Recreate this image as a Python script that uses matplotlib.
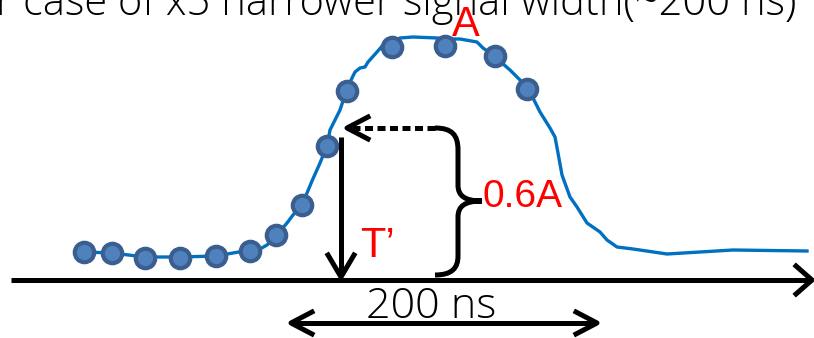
import matplotlib.pyplot as plt
from matplotlib.path import Path
from matplotlib.patches import PathPatch

# coordinates are in picture pixels (x to the right, y downwards)
# sampled points of the narrow signal
sample_x = [84, 112, 145, 180, 216, 250, 276, 302, 327, 347, 392, 445, 495, 527]
sample_y = [252, 253, 258, 258, 256, 251, 235, 205, 146, 91, 47, 46, 56, 89]

# continuous waveform
wave_x = [84, 112, 145, 180, 216, 250, 260, 267, 276, 287, 293, 302, 312, 320, 327,
          330, 335, 340, 345, 347, 352, 355, 360, 365, 368, 377, 383, 392, 400, 413,
          437, 445, 460, 477, 483, 490, 495, 510, 520, 527, 533, 540, 550, 555, 558,
          562, 570, 577, 587, 600, 607, 617, 633, 667, 700, 733, 807]
wave_y = [252, 253, 257, 257, 256, 250, 249, 245, 236, 223, 215, 205, 181, 163, 146,
          130, 120, 110, 95, 90, 78, 72, 68, 67, 62, 52, 45, 43, 38, 37,
          38, 39, 39, 42, 48, 53, 57, 70, 80, 89, 98, 112, 128, 137, 153,
          175, 197, 207, 223, 232, 240, 247, 249, 254, 252, 250, 251]

fig = plt.figure(figsize=(8.14, 3.38), dpi=100)
ax = fig.add_axes([0, 0, 1, 1])
ax.set_xlim(0, 814)
ax.set_ylim(338, 0)
ax.axis('off')

thin = dict(family='Open Sans', fontweight='light', color='black')
red = dict(family='Liberation Sans', color='red')

# title, cut off by the top edge
ax.text(-4, 15, 'r case of x5 narrower signal width(~200 ns)', fontsize=30,
        ha='left', va='baseline', **thin)

# time axis
ax.plot([11, 812], [280, 280], color='black', lw=3.6, solid_capstyle='butt')
ax.plot([796, 812, 796], [266, 280, 294], color='black', lw=3.6)

# waveform and samples
ax.plot(wave_x, wave_y, color='#0070C0', lw=2.4, solid_joinstyle='round')
ax.plot(sample_x, sample_y, ls='none', marker='o', ms=14, mfc='#4F81BD',
        mec='#3A5E8F', mew=3)

# T' arrow
ax.plot([341, 341], [137, 276], color='black', lw=3.6, solid_capstyle='butt')
ax.plot([328, 341, 354], [255, 277, 255], color='black', lw=3.6)

# dotted arrow towards the signal
ax.plot([435, 352], [128, 128], color='black', lw=3.6, ls=(0, (1.6, 0.9)),
        dash_capstyle='butt')
ax.plot([368, 347, 368], [117, 128, 139], color='black', lw=3.6)

# brace
verts = [(435, 128), (452, 128), (458, 135), (458, 150),
         (458, 185),
         (458, 196), (465, 201), (482, 201),
         (465, 201), (458, 206), (458, 217),
         (458, 256),
         (458, 268), (452, 275), (435, 275)]
codes = [Path.MOVETO, Path.CURVE4, Path.CURVE4, Path.CURVE4,
         Path.LINETO,
         Path.CURVE4, Path.CURVE4, Path.CURVE4,
         Path.CURVE4, Path.CURVE4, Path.CURVE4,
         Path.LINETO,
         Path.CURVE4, Path.CURVE4, Path.CURVE4]
ax.add_patch(PathPatch(Path(verts, codes), fill=False, lw=3.6, ec='black'))

# 200 ns arrow
ax.plot([292, 596], [323, 323], color='black', lw=3.6, solid_capstyle='butt')
ax.plot([312, 291, 312], [312, 323, 334], color='black', lw=3.6)
ax.plot([576, 597, 576], [312, 323, 334], color='black', lw=3.6)

ax.text(366, 318, '200 ns', fontsize=31, ha='left', va='baseline', **thin)
ax.text(452, 36, 'A', fontsize=30, ha='left', va='baseline', **red)
ax.text(483, 207, '0.6A', fontsize=28, ha='left', va='baseline', **red)
ax.text(360, 257, 'T\u2019', fontsize=30, ha='left', va='baseline', **red)

plt.savefig('out.png', dpi=100)
